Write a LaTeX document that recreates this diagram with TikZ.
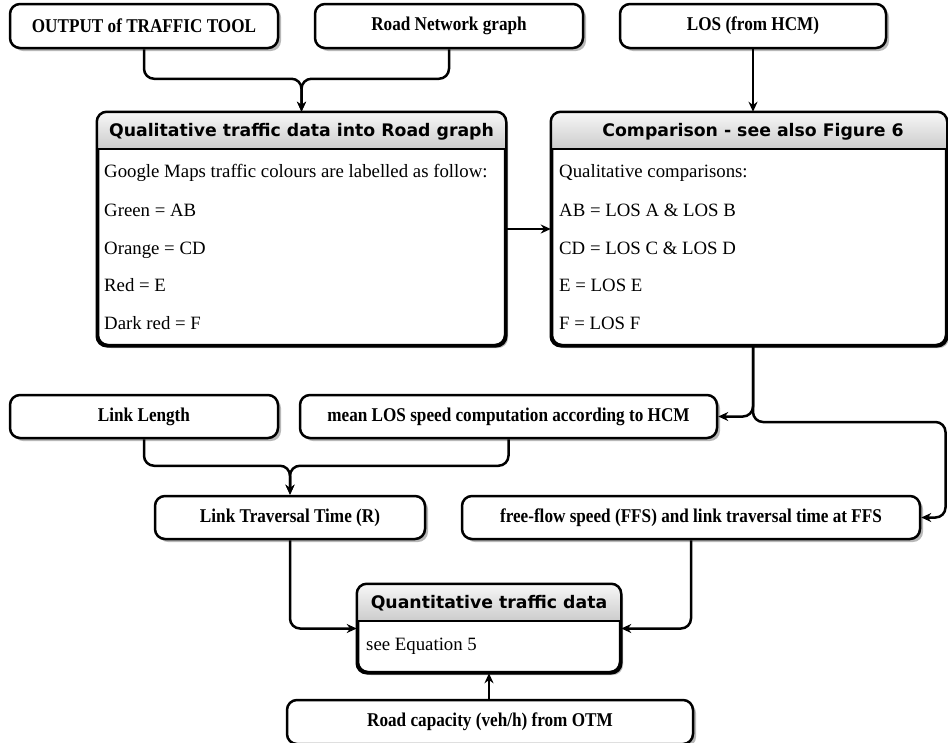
\documentclass[tikz,border=0pt]{standalone}
\usepackage{fontspec}
\setmainfont{Liberation Serif}
\newfontfamily\hdrfont{DejaVu Sans}
\newfontfamily\boxfont[FakeStretch=0.88]{Liberation Serif Bold}
\usetikzlibrary{arrows.meta,shadows,calc}
\tikzset{
  boxline/.style={line width=2.5pt},
  box/.style={boxline, draw=black, rounded corners=10pt, fill=white, inner sep=0pt,
    drop shadow={shadow xshift=3pt, shadow yshift=-3pt, fill=black, opacity=0.28},
    font=\boxfont\fontsize{19.5pt}{22pt}\selectfont},
  panel/.style={boxline, draw=black, rounded corners=10pt, fill=white, inner sep=0pt,
    drop shadow={shadow xshift=3pt, shadow yshift=-3pt, fill=black, opacity=0.28}},
  hdrfill/.style={top color=black!3, bottom color=black!20},
  hdrtext/.style={inner sep=0pt, font=\hdrfont\fontsize{17.3pt}{20pt}\selectfont\bfseries},
  bodytext/.style={inner sep=0pt, anchor=base west, font=\fontsize{18.8pt}{22pt}\selectfont},
  conn/.style={boxline, rounded corners=10pt, -{Stealth[length=10pt,width=9pt]}}
}
\begin{document}
\begin{tikzpicture}[x=1pt,y=-1pt]
\useasboundingbox (0,0) rectangle (948,742);
\fill[white] (0,0) rectangle (948,742);

% top row
\node[box, minimum width=268pt, minimum height=44pt] (out) at (144,26) {OUTPUT of TRAFFIC TOOL};
\node[box, minimum width=268pt, minimum height=44pt] (road) at (449,26) {Road Network graph};
\node[box, minimum width=266pt, minimum height=44pt] (los) at (753,26) {LOS (from HCM)};

% qualitative panel
\node[panel, minimum width=407pt, minimum height=232pt] (qual) at (301.5,229) {};
\begin{scope}
  \clip[rounded corners=10pt] (qual.north west) rectangle (qual.south east);
  \fill[hdrfill] (qual.north west) rectangle ($(qual.north east)+(0,37)$);
\end{scope}
\draw[boxline] ($(qual.north west)+(0,37)$) -- ($(qual.north east)+(0,37)$);
\draw[boxline, rounded corners=10pt] (qual.north west) rectangle (qual.south east);
\node[hdrtext] (qualh) at (301.5,131.5) {Qualitative traffic data into Road graph};
\node[bodytext] (q1) at (104,177) {Google Maps traffic colours are labelled as follow:};
\node[bodytext] (q2) at (104,216) {Green = AB};
\node[bodytext] (q3) at (104,254) {Orange = CD};
\node[bodytext] (q4) at (104,291) {Red = E};
\node[bodytext] (q5) at (104,329) {Dark red = F};

% comparison panel
\node[panel, minimum width=394pt, minimum height=232pt] (comp) at (749,229) {};
\begin{scope}
  \clip[rounded corners=10pt] (comp.north west) rectangle (comp.south east);
  \fill[hdrfill] (comp.north west) rectangle ($(comp.north east)+(0,37)$);
\end{scope}
\draw[boxline] ($(comp.north west)+(0,37)$) -- ($(comp.north east)+(0,37)$);
\draw[boxline, rounded corners=10pt] (comp.north west) rectangle (comp.south east);
\node[hdrtext] (comph) at (753,131.5) {Comparison - see also Figure 6};
\node[bodytext] (c1) at (559,177) {Qualitative comparisons:};
\node[bodytext] (c2) at (559,216) {AB = LOS A \& LOS B};
\node[bodytext] (c3) at (559,254) {CD = LOS C \& LOS D};
\node[bodytext] (c4) at (559,291) {E = LOS E};
\node[bodytext] (c5) at (559,329) {F = LOS F};

% middle rows
\node[box, minimum width=268pt, minimum height=43pt] (link) at (144,416.5) {Link Length};
\node[box, minimum width=417pt, minimum height=43pt] (mean) at (508.5,416.5) {mean LOS speed computation according to HCM};
\node[box, minimum width=270pt, minimum height=43pt] (ltt) at (290,517.5) {Link Traversal Time (R)};
\node[box, minimum width=458pt, minimum height=43pt] (ffs) at (691,517.5) {free-flow speed (FFS) and link traversal time at FFS};

% quantitative panel
\node[panel, minimum width=262pt, minimum height=87pt] (quant) at (489,628.5) {};
\begin{scope}
  \clip[rounded corners=10pt] (quant.north west) rectangle (quant.south east);
  \fill[hdrfill] (quant.north west) rectangle ($(quant.north east)+(0,37)$);
\end{scope}
\draw[boxline] ($(quant.north west)+(0,37)$) -- ($(quant.north east)+(0,37)$);
\draw[boxline, rounded corners=10pt] (quant.north west) rectangle (quant.south east);
\node[hdrtext] (quanth) at (489,603.5) {Quantitative traffic data};
\node[bodytext] (qt1) at (366,650) {see Equation 5};

% bottom
\node[box, minimum width=406pt, minimum height=44pt] (cap) at (490,722) {Road capacity (veh/h) from OTM};

% connectors
\coordinate (m1) at ($(qual.north)+(0,-33)$);
\draw[conn] (out.south) |- (m1) -- (qual.north);
\draw[conn] (road.south) |- (m1) -- (qual.north);
\draw[conn] (los.south) -- (comp.north -| los.south);
\draw[conn] (qual.east) -- (comp.west);
\coordinate (cs) at (comp.south -| los.south);
\draw[conn] (cs) |- (mean.east);
\coordinate (rb) at (945.5,422);
\draw[conn] (cs) |- (rb) |- (ffs.east);
\coordinate (m2) at ($(ltt.north)+(0,-29)$);
\draw[conn] (link.south) |- (m2) -- (ltt.north);
\draw[conn] (mean.south) |- (m2) -- (ltt.north);
\draw[conn] (ltt.south) |- (quant.west);
\draw[conn] (ffs.south) |- (quant.east);
\draw[conn] (cap.north -| quant.south) -- (quant.south);
\end{tikzpicture}
\end{document}
